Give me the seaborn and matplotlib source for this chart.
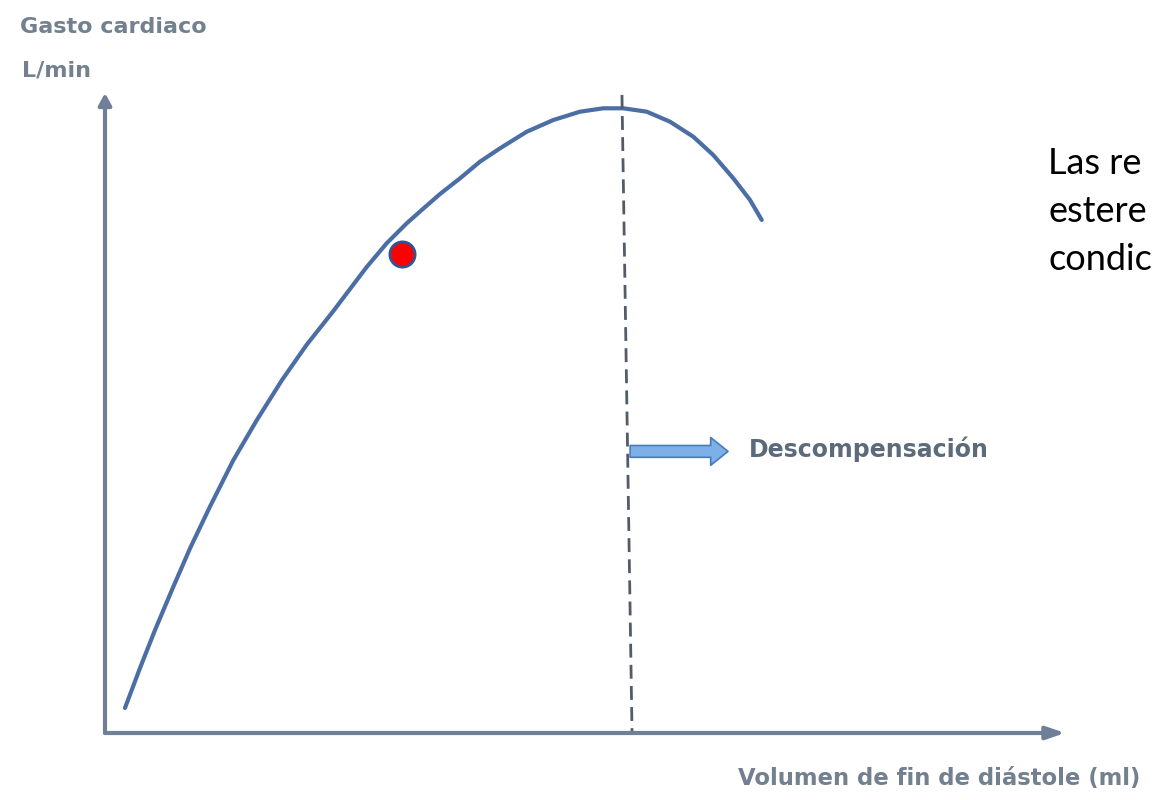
import seaborn as sns
from matplotlib import pyplot as plt
import pandas as pd

# curve (volume, output, arbitrary units 0-100)
volumen = [2.08, 3.65, 5.21, 6.95, 8.85, 10.94, 13.36, 15.80, 18.41, 21.01, 23.78,
           25.18, 27.26, 29.34, 31.43, 32.99, 34.90, 36.98, 39.06, 41.15, 43.93,
           46.70, 49.48, 51.91, 53.99, 56.43, 58.85, 61.28, 63.36, 65.45, 67.19, 68.41]
gasto = [3.91, 10.16, 16.09, 22.27, 28.83, 35.39, 42.61, 48.86, 55.09, 60.67, 65.92,
         68.70, 72.81, 76.52, 79.64, 81.72, 84.22, 86.67, 89.27, 91.36, 93.95,
         95.78, 97.08, 97.61, 97.61, 97.08, 95.52, 93.17, 90.31, 86.67, 83.28, 80.16]

# marked point
punto_x = [30.9]
punto_y = [74.9]

# dashed line at the peak
limite_x = [53.85, 54.9]
limite_y = [99.7, 0.0]

# arrow towards decompensation
flecha_x = [54.7, 64.9]
flecha_y = [44.0, 44.0]

texto_derecha = ["Las re", "estere", "condic"]

curva = pd.DataFrame({"Volumen": volumen, "Gasto": gasto})

sns.set_style("white")
fig = plt.figure(figsize=(11.58, 8), dpi=100)
ax = fig.add_axes([105 / 1158, 67 / 800, 960 / 1158, 640 / 800])
ax.set_xlim(0, 100)
ax.set_ylim(0, 100)

axis_col = "#6e7f97"
curve_col = "#4b6ea5"

sns.lineplot(x="Volumen", y="Gasto", data=curva, ax=ax, color=curve_col, lw=3,
             sort=False, estimator=None)
sns.lineplot(x=limite_x, y=limite_y, ax=ax, color="#515c68", lw=2,
             linestyle=(0, (5, 2.6)), sort=False, estimator=None)
sns.scatterplot(x=punto_x, y=punto_y, ax=ax, s=330, color="#ff0000", edgecolor="#2f5597",
                linewidth=2, zorder=5)

ax.annotate("", xy=(flecha_x[1], flecha_y[1]), xytext=(flecha_x[0], flecha_y[0]),
            arrowprops=dict(arrowstyle="simple,head_length=1.25,head_width=2.0,tail_width=0.85",
                            mutation_scale=10, fc="#7db0e8", ec="#4a7ab8", lw=1.2,
                            shrinkA=0, shrinkB=0))
ax.text(flecha_x[1] + 2.2, flecha_y[1] + 0.3, "Descompensación", fontsize=17,
        fontweight="bold", color="#5c6b7a", va="center", ha="left")

# axes drawn as arrows
for s in ax.spines.values():
    s.set_visible(False)
ax.set_xticks([])
ax.set_yticks([])
ax.set_xlabel("")
ax.set_ylabel("")
ax.annotate("", xy=(1, 0), xytext=(0, 0), xycoords="axes fraction",
            arrowprops=dict(arrowstyle="-|>,head_length=1.1,head_width=0.38", color=axis_col,
                            lw=3, shrinkA=0, shrinkB=0), annotation_clip=False)
ax.annotate("", xy=(0, 1), xytext=(0, 0), xycoords="axes fraction",
            arrowprops=dict(arrowstyle="-|>,head_length=0.7,head_width=0.38", color=axis_col,
                            lw=3, shrinkA=0, shrinkB=0), annotation_clip=False)

lab_col = "#728090"
fig.text(20 / 1158, 1 - 27 / 800, "Gasto cardiaco", fontsize=16, fontweight="bold",
         color=lab_col, va="center", ha="left")
fig.text(22 / 1158, 1 - 71 / 800, "L/min", fontsize=16, fontweight="bold",
         color=lab_col, va="center", ha="left")
fig.text(738 / 1158, 1 - 778 / 800, "Volumen de fin de diástole (ml)", fontsize=16.4,
         fontweight="bold", color=lab_col, va="center", ha="left")

for i, linea in enumerate(texto_derecha):
    fig.text(1048 / 1158, 1 - (174 + 48 * i) / 800, linea, fontsize=26, family="Lato",
             color="black", va="baseline", ha="left")

plt.savefig("out.png", dpi=100)
